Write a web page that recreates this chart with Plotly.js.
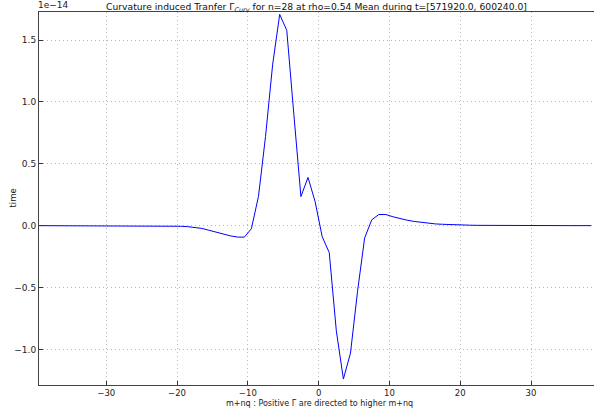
<!DOCTYPE html>
<html>
<head>
<meta charset="utf-8">
<script src="https://cdn.plot.ly/plotly-3.0.1.min.js"></script>
<style>
html,body{margin:0;padding:0;background:#fff;}
#chart{width:594px;height:412px;}
</style>
</head>
<body>
<div id="chart"></div>
<script>
// m+nq positions
var mnq = [-39.5,-38.5,-37.5,-36.5,-35.5,-34.5,-33.5,-32.5,-31.5,-30.5,
  -29.5,-28.5,-27.5,-26.5,-25.5,-24.5,-23.5,-22.5,-21.5,-20.5,
  -19.5,-18.5,-17.5,-16.5,-15.5,-14.5,-13.5,-12.5,-11.5,-10.5,
  -9.5,-8.5,-7.5,-6.5,-5.5,-4.5,-3.5,-2.5,-1.5,-0.5,
  0.5,1.5,2.5,3.5,4.5,5.5,6.5,7.5,8.5,9.5,
  10.5,11.5,12.5,13.5,14.5,15.5,16.5,17.5,18.5,19.5,
  20.5,21.5,22.5,23.5,24.5,25.5,26.5,27.5,28.5,29.5,
  30.5,31.5,32.5,33.5,34.5,35.5,36.5,37.5,38.5];
// Gamma_Curv values, in units of 1e-14
var gammaCurv = [-0.0001,-0.0001,-0.0001,-0.0001,-0.0002,-0.0002,-0.0002,-0.0003,-0.0003,-0.0004,
  -0.0005,-0.0006,-0.0007,-0.0009,-0.0011,-0.0014,-0.0018,-0.0023,-0.003,-0.004,
  -0.005,-0.008,-0.013,-0.022,-0.037,-0.053,-0.069,-0.082,-0.092,-0.093,
  -0.025,0.235,0.72,1.30,1.708,1.578,0.90,0.235,0.39,0.195,
  -0.088,-0.218,-0.85,-1.24,-1.03,-0.53,-0.10,0.047,0.09,0.09,
  0.072,0.057,0.044,0.034,0.026,0.019,0.014,0.011,0.008,0.006,
  0.0045,0.0034,0.0026,0.002,0.0015,0.0012,0.0009,0.0007,0.0005,0.0004,
  0.0003,0.0003,0.0002,0.0002,0.0001,0.0001,0.0001,0.0001,0.0001];
var xTicks = [-30,-20,-10,0,10,20,30];
var yTicks = [-1.0,-0.5,0.0,0.5,1.0,1.5];

var font = "DejaVu Sans, sans-serif";
var trace = {
  x: mnq, y: gammaCurv, type: 'scatter', mode: 'lines',
  line: {color: '#0000ff', width: 1}, hoverinfo: 'none'
};
var layout = {
  width: 594, height: 412,
  margin: {l: 39, r: 0, t: 12, b: 27},
  paper_bgcolor: '#fff', plot_bgcolor: '#fff',
  showlegend: false,
  font: {family: font, size: 9, color: '#222'},
  title: {
    text: 'Curvature induced Tranfer \u0393<sub><i>Curv</i></sub> for n=28 at rho=0.54 Mean during t=[571920.0, 600240.0]',
    font: {family: font, size: 9.2, color: '#111'},
    x: 0.5, xref: 'paper', xanchor: 'center',
    y: 0.983, yref: 'container', yanchor: 'middle', pad: {t: 0, b: 0}
  },
  xaxis: {
    range: [-39.5, 38.9], tickvals: xTicks, ticks: 'inside', ticklen: 4,
    tickcolor: '#333', showline: true, linecolor: '#444', linewidth: 1,
    mirror: true, zeroline: false, showgrid: true, gridcolor: '#b8b8b8',
    griddash: '1px,3px', gridwidth: 1,
    tickfont: {family: font, size: 8.5, color: '#222'}
  },
  yaxis: {
    range: [-1.288, 1.727], tickvals: yTicks, tickformat: '.1f',
    ticks: 'inside', ticklen: 4, tickcolor: '#333',
    showline: true, linecolor: '#444', linewidth: 1, mirror: false,
    zeroline: false, showgrid: true, gridcolor: '#b8b8b8',
    griddash: '1px,3px', gridwidth: 1,
    tickfont: {family: font, size: 9, color: '#222'}
  },
  annotations: [{
    text: '1e\u221214', xref: 'paper', yref: 'paper', x: 0, y: 1,
    xanchor: 'left', yanchor: 'bottom', showarrow: false,
    font: {family: font, size: 9, color: '#222'}, xshift: -3, yshift: 0
  }, {
    text: 'm+nq : Positive \u0393 are directed to higher m+nq',
    xref: 'paper', yref: 'paper', x: 0.5, y: 0, xanchor: 'center', yanchor: 'middle',
    yshift: -18, xshift: 3, showarrow: false,
    font: {family: font, size: 8, color: '#222'}
  }, {
    text: 'time', textangle: -90,
    xref: 'paper', yref: 'paper', x: 0, y: 0.5, xanchor: 'center', yanchor: 'middle',
    xshift: -27, showarrow: false,
    font: {family: font, size: 8.5, color: '#222'}
  }]
};
Plotly.newPlot('chart', [trace], layout, {displayModeBar: false, staticPlot: true});
</script>
</body>
</html>
